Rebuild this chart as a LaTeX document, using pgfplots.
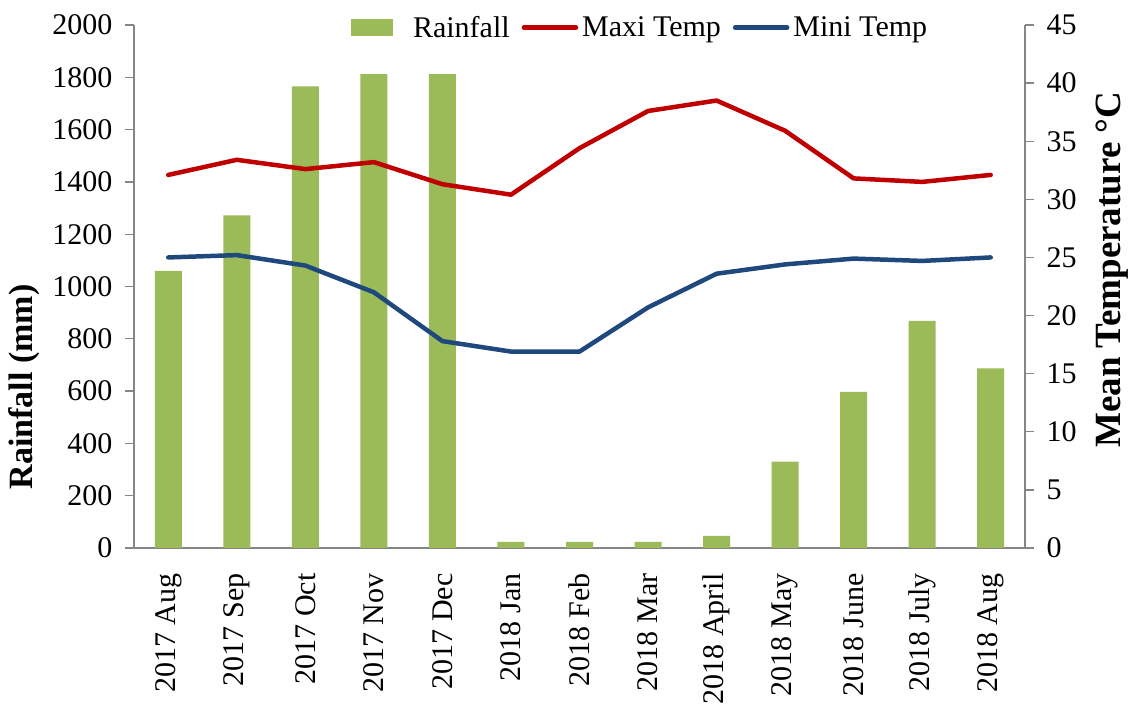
\documentclass[border=0pt]{standalone}
\usepackage{fontspec}
\setmainfont{Liberation Serif}
\usepackage{pgfplots}
\pgfplotsset{compat=1.18}
\definecolor{barg}{HTML}{9BBB59}
\definecolor{maxr}{HTML}{C00000}
\definecolor{minb}{HTML}{1F497D}
\definecolor{axg}{HTML}{868686}
\pgfplotsset{
  common/.style={
    scale only axis, width=891pt, height=523pt,
    xmin=-0.5, xmax=12.5,
    axis line style={axg, line width=1.3pt},
    tick style={axg, line width=1.3pt},
    tick align=outside,
    major tick length=9pt,
    ticklabel style={font=\fontsize{30}{35}\selectfont},
    /pgf/number format/assume math mode=true,
    /pgf/number format/1000 sep={},
    clip=false,
  }
}
\begin{document}
\begin{tikzpicture}
\begin{axis}[common,
  axis y line*=left, axis x line*=bottom,
  ymin=0, ymax=2000, ytick={0,200,...,2000},
  yticklabel style={xshift=-9pt},
  xtick={0,...,12},
  xticklabels={2017 Aug,2017 Sep,2017 Oct,2017 Nov,2017 Dec,2018 Jan,2018 Feb,2018 Mar,2018 April,2018 May,2018 June,2018 July,2018 Aug},
  x tick style={draw=none},
  minor xtick={-0.5,0.5,...,12.5},
  minor tick length=9pt,
  minor x tick style={axg, line width=1.3pt},
  xticklabel style={rotate=90, anchor=east, xshift=-13pt},
  ylabel={\textbf{Rainfall (mm)}},
  ylabel style={at={(axis description cs:-0.123,0.308)}, anchor=center, font=\fontsize{34}{38}\selectfont},
]
\addplot[ybar, bar width=27pt, fill=barg, draw=none] coordinates {
(0,1060) (1,1272) (2,1765) (3,1812) (4,1812) (5,23) (6,23) (7,23) (8,46) (9,330) (10,597) (11,869) (12,687)};
\coordinate (LL) at (rel axis cs:0,0);
\coordinate (UR) at (rel axis cs:1,1);
\end{axis}
\begin{axis}[common,
  axis y line*=right, axis x line=none,
  ymin=0, ymax=45, ytick={0,5,...,45},
  yticklabel style={xshift=9pt},
  ylabel={\textbf{Mean Temperature °C}},
  ylabel style={at={(axis description cs:1.098,0.532)}, anchor=center, rotate=0, font=\fontsize{37}{41}\selectfont},
  legend style={at={(axis description cs:0.568,0.995)}, anchor=center, draw=none, fill=none,
    legend columns=3, font=\fontsize{30}{35}\selectfont, inner sep=0pt,
    /tikz/every odd column/.append style={column sep=2pt},
    /tikz/every even column/.append style={column sep=10pt}},
  legend cell align=left,
]
\addlegendimage{legend image code/.code={\fill[barg, draw=none] (0pt,-8.5pt) rectangle (42pt,8.5pt); \path[draw=none] (0pt,0pt) -- (58pt,0pt);}}
\addlegendentry{Rainfall}
\addplot[maxr, line width=4.5pt, line join=round, line cap=round,
  legend image code/.code={\draw[maxr, line width=4.5pt, line cap=round] (2pt,0pt) -- (54pt,0pt);}] coordinates {
(0,32.1) (1,33.4) (2,32.6) (3,33.2) (4,31.3) (5,30.4) (6,34.4) (7,37.6) (8,38.5) (9,35.9) (10,31.8) (11,31.5) (12,32.1)};
\addlegendentry{Maxi Temp}
\addplot[minb, line width=4.5pt, line join=round, line cap=round,
  legend image code/.code={\draw[minb, line width=4.5pt, line cap=round] (2pt,0pt) -- (54pt,0pt);}] coordinates {
(0,25.0) (1,25.2) (2,24.3) (3,22.0) (4,17.8) (5,16.9) (6,16.9) (7,20.7) (8,23.6) (9,24.4) (10,24.9) (11,24.7) (12,25.0)};
\addlegendentry{Mini Temp}
\end{axis}
\pgfresetboundingbox
\path ([shift={(-134pt,-160pt)}]LL) rectangle ([shift={(109pt,25pt)}]UR);
\end{tikzpicture}
\end{document}
